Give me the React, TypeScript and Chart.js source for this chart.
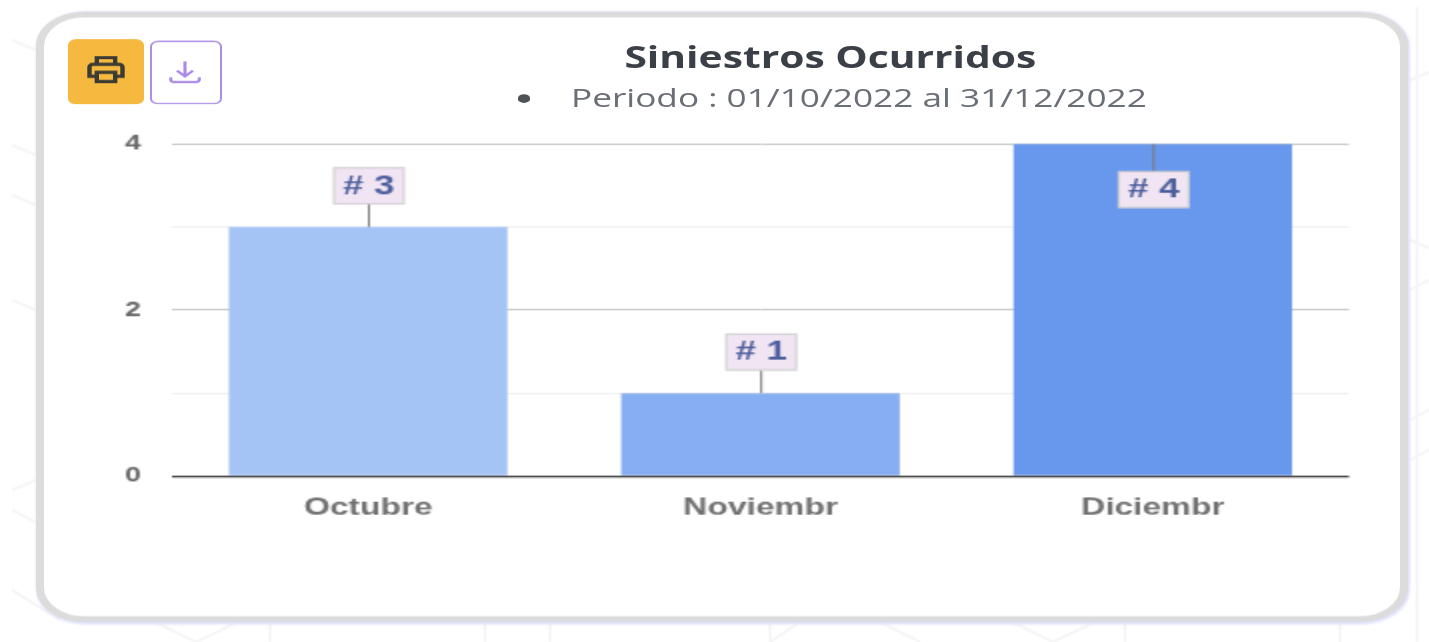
import React, { useEffect, useRef } from "react";
import { Chart, registerables } from "chart.js";

Chart.register(...registerables);

const categories = ["Octubre", "Noviembr", "Diciembr"];
const siniestros = [3, 1, 4];
const barColors = ["#a4c4f5", "#87aef2", "#6897ee"];
const chartTitle = "Siniestros Ocurridos";
const chartSubtitle = "Periodo : 01/10/2022 al 31/12/2022";
const yMax = 4;
const backdropPath =
  "M12 40L36 50M12 145L36 155M12 195L36 205M12 300L36 310M12 490L36 480M12 510L60 535M12 590L60 620" +
  "M1410 80L1429 72M1410 240L1429 248M1410 290L1429 280M1410 420L1429 410M1410 460L1429 450M1417 7V642" +
  "M155 622L196 642L238 622M270 622V642M485 622V642M550 622V642M770 622V642M800 622L770 642M880 622L920 642" +
  "M1012 622L1053 642L1095 622M1125 622V642M1340 622V642";

const SX = 2;
const SY = 1.45;
const W = 1429 / SX;
const H = 642 / SY;

const labelPlugin = {
  id: "valueLabels",
  afterDatasetsDraw(chart: any) {
    const { ctx, scales } = chart;
    const values: number[] = chart.data.datasets[0].data;
    values.forEach((v, i) => {
      const x = scales.x.getPixelForValue(i) + 0.4;
      const y = scales.y.getPixelForValue(v);
      const inside = v >= yMax;
      const gap = inside ? 19 : 16;
      const boxH = 24.8;
      const boxW = 35;
      const boxY = inside ? y + gap : y - gap - boxH;
      ctx.save();
      ctx.strokeStyle = "#7d7d7d";
      ctx.lineWidth = 1;
      ctx.beginPath();
      ctx.moveTo(x, y);
      ctx.lineTo(x, inside ? boxY : boxY + boxH);
      ctx.stroke();
      ctx.fillStyle = "#f1e4f3";
      ctx.strokeStyle = "#cfcfcf";
      ctx.lineWidth = 1;
      ctx.fillRect(x - boxW / 2, boxY, boxW, boxH);
      ctx.strokeRect(x - boxW / 2, boxY, boxW, boxH);
      ctx.fillStyle = "#4d5f9c";
      ctx.font = "bold 18.5px 'Liberation Sans'";
      ctx.textAlign = "center";
      ctx.textBaseline = "middle";
      ctx.fillText("# " + v, x, boxY + boxH / 2 + 0.5);
      ctx.restore();
    });
  },
};

export default function App() {
  const ref = useRef<HTMLCanvasElement>(null);

  useEffect(() => {
    const chart = new Chart(ref.current as HTMLCanvasElement, {
      type: "bar",
      data: {
        labels: categories,
        datasets: [
          {
            data: siniestros,
            backgroundColor: barColors,
            barPercentage: 0.71,
            categoryPercentage: 1,
          },
        ],
      },
      plugins: [labelPlugin],
      options: {
        animation: false,
        responsive: false,
        devicePixelRatio: 1,
        layout: { padding: { top: 99.3, right: W - 675, left: 0, bottom: 0 } },
        plugins: { legend: { display: false }, tooltip: { enabled: false } },
        scales: {
          x: {
            afterFit: (s: any) => {
              s.height = H - 329.2;
            },
            grid: { display: false, drawTicks: false },
            border: { display: false },
            ticks: {
              padding: 12,
              color: "#707070",
              maxRotation: 0,
              font: { family: "'Liberation Sans'", weight: "bold", size: 16.8 },
            },
          },
          y: {
            min: 0,
            max: yMax,
            afterFit: (s: any) => {
              s.width = 86;
            },
            border: { display: false },
            grid: {
              drawTicks: false,
              color: (c: any) =>
                c.tick.value === 0 ? "#454545" : c.tick.value % 2 === 0 ? "#c9c9c9" : "#efefef",
              lineWidth: (c: any) => (c.tick.value === 0 ? 1.2 : 1),
            },
            ticks: {
              stepSize: 1,
              padding: 15.5,
              color: "#666666",
              font: { family: "'Liberation Sans'", weight: "bold", size: 14.4 },
              callback: (v: any) => (Number(v) % 2 === 0 ? String(v) : ""),
            },
          },
        },
      },
    } as any);
    return () => chart.destroy();
  }, []);

  const abs = (l: number, t: number, w: number, h: number): React.CSSProperties => ({
    position: "absolute",
    left: l,
    top: t,
    width: w,
    height: h,
    boxSizing: "border-box",
  });

  return (
    <div
      style={{
        position: "fixed",
        left: 0,
        top: 0,
        width: W,
        height: H,
        overflow: "hidden",
        transform: `scale(${SX},${SY})`,
        transformOrigin: "0 0",
        background: "#fff",
        filter: "blur(0.3px)",
        fontFamily: "'Open Sans'",
      }}
    >
      <svg
        viewBox="0 0 1429 642"
        preserveAspectRatio="none"
        style={{ position: "absolute", left: 0, top: 0, width: W, height: H }}
        fill="none"
        stroke="#f6f6f6"
        strokeWidth="3"
      >
        <path d={backdropPath} />
      </svg>
      <div
        style={{
          ...abs(18.2, 8.3, 686, 420.7),
          background: "#fff",
          border: "4px solid #dcdcdc",
          borderRadius: 24,
          boxShadow: "0.5px 1px 1.5px 0.5px #dfe0fd",
        }}
      />
      <canvas ref={ref} width={W} height={H} style={{ position: "absolute", left: 0, top: 0, display: "block" }} />
      <div style={{ ...abs(33.5, 27, 38, 45), background: "#f5b93f", borderRadius: 4 }}>
        <svg viewBox="0 0 24 24" style={{ position: "absolute", left: 8, top: 8, width: 22, height: 26 }} fill="none" stroke="#3b3b33" strokeWidth="2.4">
          <path d="M7 8V3h10v5M6 17H3v-7a2 2 0 0 1 2-2h14a2 2 0 0 1 2 2v7h-3" />
          <path d="M7 14h10v7H7z" />
        </svg>
      </div>
      <div style={{ ...abs(74.5, 27.5, 36, 44), border: "1px solid #ab8ee8", borderRadius: 4 }}>
        <svg viewBox="0 0 24 24" style={{ position: "absolute", left: 7.5, top: 8, width: 19, height: 25 }} fill="none" stroke="#a98ae8" strokeWidth="2">
          <path d="M12 3v12M7 11l5 5 5-5M3 17v2a2 2 0 0 0 2 2h14a2 2 0 0 0 2-2v-2" />
        </svg>
      </div>
      <div
        style={{
          position: "absolute",
          left: 265.2,
          width: 300,
          top: 24.5,
          textAlign: "center",
          whiteSpace: "nowrap",
          fontSize: 20.4,
          lineHeight: "28px",
          fontWeight: 700,
          color: "#3b3f47",
        }}
      >
        {chartTitle}
      </div>
      <div
        style={{
          position: "absolute",
          left: 285.5,
          top: 53.4,
          whiteSpace: "nowrap",
          fontSize: 17.6,
          lineHeight: "28px",
          color: "#6a6e75",
        }}
      >
        {chartSubtitle}
      </div>
      <div
        style={{
          ...abs(258.5, 65, 6.5, 5.5),
          borderRadius: "50%",
          background: "#4f5257",
        }}
      />
    </div>
  );
}
